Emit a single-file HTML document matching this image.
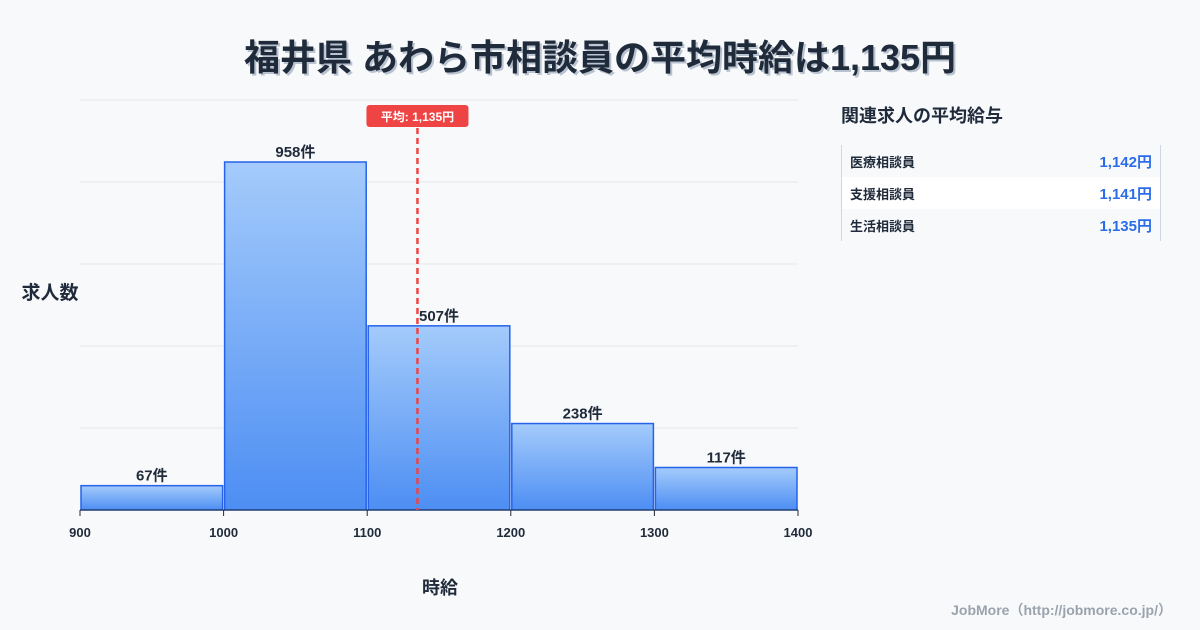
<!DOCTYPE html>
<html><head><meta charset="utf-8"><style>
body{margin:0;width:1200px;height:630px;background:#f8f9fb;font-family:"Liberation Sans","Noto Sans CJK JP",sans-serif;position:relative;overflow:hidden;color:#1f2a3a}
.title{position:absolute;top:29px;left:0;width:1200px;text-align:center;font-size:36px;font-weight:bold;color:#1f2a3a;text-shadow:2px 2px 0 #b8c2d0}
.side{position:absolute;left:841px;top:102px;font-size:18px;font-weight:bold}
.tbl{position:absolute;left:841px;top:145px;width:318px;border-left:1px solid #cfd6e0;border-right:1px solid #cfd6e0}
.row{height:32px;display:flex;justify-content:space-between;align-items:center;padding:0 8px;font-size:13px;font-weight:bold}
.row span:last-child{color:#2b6de8;font-size:15px}
.row.w{background:#fff}
.foot{position:absolute;right:28px;bottom:10px;font-size:14px;color:#9aa3ad;font-weight:bold}
</style></head><body>
<div class="title">福井県 あわら市相談員の平均時給は1,135円</div>
<svg id="chart" width="1200" height="630" style="position:absolute;left:0;top:0">
<defs><linearGradient id="g" x1="0" y1="0" x2="0" y2="1"><stop offset="0" stop-color="#a4cbfb"/><stop offset="1" stop-color="#4d8ef3"/></linearGradient></defs>
</svg>
<div class="side">関連求人の平均給与</div>
<div class="tbl">
<div class="row"><span>医療相談員</span><span>1,142円</span></div>
<div class="row w"><span>支援相談員</span><span>1,141円</span></div>
<div class="row"><span>生活相談員</span><span>1,135円</span></div>
</div>
<div class="foot">JobMore（http://jobmore.co.jp/）</div>
<script>
const binStarts=[900,1000,1100,1200,1300];
const binWidth=100;
const counts=[67,958,507,238,117];
const xTicks=[900,1000,1100,1200,1300,1400];
const meanValue=1135;
const svg=document.getElementById('chart');
const NS='http://www.w3.org/2000/svg';
const X0=80,X1=798,Y0=510;
const x=v=>X0+(v-900)/(1400-900)*(X1-X0);
const y=v=>Y0-v*(348/958);
function mk(t,a,txt){const e=document.createElementNS(NS,t);for(const k in a)e.setAttribute(k,a[k]);if(txt!==undefined)e.textContent=txt;svg.appendChild(e);return e;}
for(let i=0;i<6;i++){const g=mk('line',{x1:X0,x2:X1,y1:100+i*82,y2:100+i*82,stroke:'#e3e7ec','stroke-width':1});

}
binStarts.forEach((b,i)=>{
const r=mk('rect',{x:x(b)+1,y:y(counts[i]),width:x(b+binWidth)-x(b)-2,height:Y0-y(counts[i]),fill:'url(#g)',stroke:'#2563eb','stroke-width':1.5});


const t=mk('text',{x:x(b+binWidth/2),y:y(counts[i])-5,'text-anchor':'middle','font-size':15,'font-weight':'bold',fill:'#1f2a3a'},counts[i]+'件');


});
const ax=mk('line',{x1:X0,x2:X1,y1:Y0,y2:Y0,stroke:'#1f2a3a','stroke-width':1});


xTicks.forEach(v=>{
const tk=mk('line',{x1:x(v),x2:x(v),y1:Y0,y2:Y0+6,stroke:'#1f2a3a'});


const t=mk('text',{x:x(v),y:537,'text-anchor':'middle','font-size':13,'font-weight':'bold',fill:'#1f2a3a'},v);


});
const mx=x(meanValue);
const ml=mk('line',{x1:mx,x2:mx,y1:128,y2:Y0,stroke:'#ef4444','stroke-width':2.5,'stroke-dasharray':'6,4'});


const mb=mk('rect',{x:mx-51,y:105,width:102,height:22,rx:3,fill:'#ef4444'});


const mt=mk('text',{x:mx,y:121,'text-anchor':'middle','font-size':12,'font-weight':'bold',fill:'#fff'},'平均: 1,135円');


const yt=mk('text',{x:50,y:299,'text-anchor':'middle','font-size':19,'font-weight':'bold',fill:'#1f2a3a'},'求人数');


const xt=mk('text',{x:440,y:594,'text-anchor':'middle','font-size':18,'font-weight':'bold',fill:'#1f2a3a'},'時給');


</script>
</body></html>
